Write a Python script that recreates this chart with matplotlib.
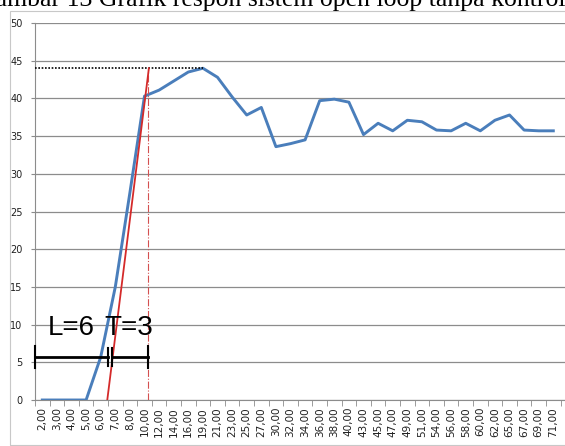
import numpy as np
import matplotlib
matplotlib.use("Agg")
import matplotlib.pyplot as plt
from matplotlib.ticker import FixedLocator, NullFormatter

# time categories (x axis labels, as shown in the chart)
categories = ["2,00", "3,00", "4,00", "5,00", "6,00", "7,00", "8,00", "10,00",
              "12,00", "14,00", "16,00", "19,00", "21,00", "23,00", "25,00", "27,00",
              "30,00", "32,00", "34,00", "36,00", "38,00", "40,00", "43,00", "45,00",
              "47,00", "49,00", "51,00", "54,00", "56,00", "58,00", "60,00", "62,00",
              "65,00", "67,00", "69,00", "71,00"]

# open loop response
response = [0.0, 0.0, 0.0, 0.0, 5.7, 15.0, 27.5, 40.3,
            41.1, 42.3, 43.5, 44.0, 42.8, 40.2, 37.8, 38.8,
            33.6, 34.0, 34.5, 39.7, 39.9, 39.5, 35.2, 36.7,
            35.7, 37.1, 36.9, 35.8, 35.7, 36.7, 35.7, 37.1,
            37.8, 35.8, 35.7, 35.7]

# tangent construction (category index, value)
tangent_x = [4.45, 7.3]
tangent_y = [0.0, 44.0]
peak_value = 44.0
peak_index = 11
bar_y = 5.7
L_end = 4.5
T_start = 4.74
T_end = 7.25

fig = plt.figure(figsize=(5.65, 4.46), dpi=100)
fig.patch.set_facecolor("white")

# caption of the document, cut at the top edge like in the source
fig.text(-0.04, 0.9865, "Gambar 13 Grafik respon sistem open loop tanpa kontrol",
         family="Liberation Serif", fontsize=18.5, ha="left", va="baseline")

# chart area frame
frame = plt.Rectangle((10 / 565, 1 / 446), 1.2, 1 - 12 / 446, transform=fig.transFigure,
                      fill=False, edgecolor="#c8c8c8", linewidth=0.8)
fig.add_artist(frame)

ax = fig.add_axes([35 / 565, 1 - 400 / 446, 530 / 565, 377 / 446])
x = np.arange(len(categories))

ax.set_xlim(-0.5, len(categories) - 0.2)
ax.set_ylim(0, 50)
ax.set_yticks(np.arange(0, 51, 5))
ax.yaxis.grid(True, color="#8c8c8c", linewidth=0.9)
ax.set_axisbelow(True)
for s in ["top", "right"]:
    ax.spines[s].set_visible(False)
ax.spines["left"].set_color("#8c8c8c")
ax.spines["bottom"].set_color("#8c8c8c")

ax.set_xticks(x)
ax.set_xticklabels(categories, rotation=90, fontsize=7.5, family="DejaVu Sans",
                   color="#202020")
ax.tick_params(axis="x", length=0, pad=5)
ax.xaxis.set_minor_locator(FixedLocator(np.arange(-0.5, len(categories), 1)))
ax.xaxis.set_minor_formatter(NullFormatter())
ax.tick_params(axis="x", which="minor", length=4, color="#8c8c8c", direction="out")
ax.tick_params(axis="y", labelsize=7, length=3, color="#8c8c8c", pad=6,
               labelcolor="#202020")

ax.plot(x, response, color="#4a7ebb", linewidth=2.1, zorder=3)

# dotted line at the peak value
ax.plot([-0.5, peak_index], [peak_value, peak_value], color="black", linestyle=(0, (1, 1)),
        linewidth=1.2, zorder=4)
# tangent at inflection point
ax.plot(tangent_x, tangent_y, color="#d42a2a", linewidth=1.3, zorder=5)
# vertical dash-dot where tangent hits the peak
ax.plot([T_end, T_end], [0, peak_value], color="#d45050", linestyle="-.", linewidth=0.8, zorder=4)

# L and T bars
ax.plot([-0.5, L_end], [bar_y, bar_y], color="black", linewidth=2.0, zorder=6)
ax.plot([T_start, T_end], [bar_y, bar_y], color="black", linewidth=2.0, zorder=6)
for cx, h in [(-0.5, 1.4), (L_end, 1.2), (T_start, 1.2), (T_end, 1.4)]:
    ax.plot([cx, cx], [bar_y - h, bar_y + h], color="black", linewidth=1.5, zorder=6,
            clip_on=False)

ax.text(1.95, 9.5, "L=6", fontsize=20, family=["Liberation Sans Narrow", "Liberation Sans"],
        ha="center", va="center", zorder=7)
ax.text(5.95, 9.5, "T=3", fontsize=20, family=["Liberation Sans Narrow", "Liberation Sans"],
        ha="center", va="center", zorder=7)

fig.savefig("out.png", dpi=100, facecolor="white")
